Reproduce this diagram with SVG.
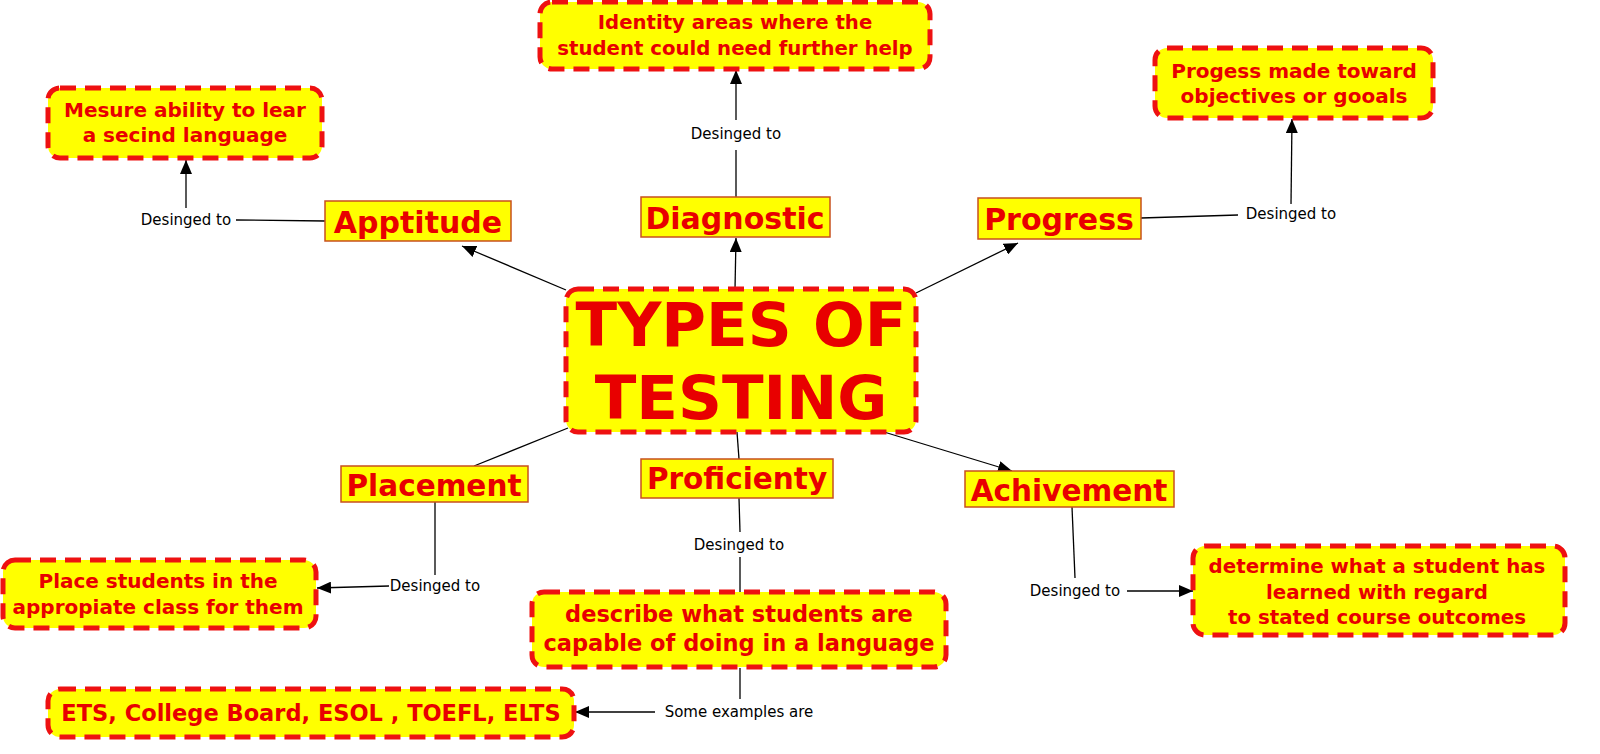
<svg xmlns="http://www.w3.org/2000/svg" width="1600" height="754" viewBox="0 0 1600 754">
<defs>
<marker id="arr" viewBox="0 0 14 12" refX="14" refY="6" markerWidth="14" markerHeight="12" markerUnits="userSpaceOnUse" orient="auto">
<path d="M0,0 L14,6 L0,12 Z" fill="#000"/>
</marker>
</defs>
<style>
.dash{fill:#ffff00;stroke:#ee1111;stroke-width:5;stroke-dasharray:16 9}
.box{fill:#ffff00;stroke:#c8501e;stroke-width:1.5}
.t{font-family:"DejaVu Sans",Verdana,sans-serif;font-weight:bold;fill:#e80000;text-anchor:middle}
.lbl{font-family:"DejaVu Sans",Verdana,sans-serif;font-size:15px;fill:#000;text-anchor:middle}
.ln{stroke:#000;stroke-width:1.3;fill:none}
.ar{stroke:#000;stroke-width:1.3;fill:none;marker-end:url(#arr)}
</style>
<rect width="1600" height="754" fill="#fff"/>
<g id="connectors">
<line class="ar" x1="566" y1="290" x2="462" y2="246"/>
<line class="ar" x1="735" y1="289" x2="736" y2="238"/>
<line class="ar" x1="916" y1="293" x2="1018" y2="243"/>
<line class="ar" x1="884" y1="432" x2="1012" y2="471"/>
<line class="ln" x1="568" y1="428" x2="474" y2="466"/>
<line class="ln" x1="737" y1="432" x2="739" y2="459"/>
<line class="ln" x1="325" y1="221" x2="236" y2="220"/>
<line class="ar" x1="186" y1="208" x2="186" y2="160"/>
<line class="ln" x1="736" y1="197" x2="736" y2="150"/>
<line class="ar" x1="736" y1="120" x2="736" y2="70"/>
<line class="ln" x1="1141" y1="218" x2="1238" y2="215"/>
<line class="ar" x1="1291" y1="204" x2="1292" y2="119"/>
<line class="ln" x1="435" y1="502" x2="435" y2="575"/>
<line class="ar" x1="389" y1="586" x2="317" y2="588"/>
<line class="ln" x1="739" y1="498" x2="740" y2="532"/>
<line class="ln" x1="740" y1="557" x2="740" y2="592"/>
<line class="ln" x1="740" y1="668" x2="740" y2="699"/>
<line class="ar" x1="655" y1="712" x2="575" y2="712"/>
<line class="ln" x1="1072" y1="507" x2="1075" y2="578"/>
<line class="ar" x1="1127" y1="591" x2="1193" y2="591"/>
</g>
<g id="labels">
<text class="lbl" x="186" y="225">Desinged to</text>
<text class="lbl" x="736" y="139">Desinged to</text>
<text class="lbl" x="1291" y="219">Desinged to</text>
<text class="lbl" x="435" y="591">Desinged to</text>
<text class="lbl" x="739" y="550">Desinged to</text>
<text class="lbl" x="739" y="717">Some examples are</text>
<text class="lbl" x="1075" y="596">Desinged to</text>
</g>
<g id="center">
<rect class="dash" x="566" y="289" width="350" height="143" rx="12"/>
<text class="t" x="741" y="346" font-size="61">TYPES OF</text>
<text class="t" x="741" y="419" font-size="61">TESTING</text>
</g>
<g id="apptitude">
<rect class="box" x="325" y="201" width="186" height="40"/>
<text class="t" x="418" y="233" font-size="30">Apptitude</text>
</g>
<g id="diagnostic">
<rect class="box" x="641" y="197" width="189" height="40"/>
<text class="t" x="735" y="229" font-size="30">Diagnostic</text>
</g>
<g id="progress">
<rect class="box" x="978" y="198" width="163" height="41"/>
<text class="t" x="1059" y="230" font-size="30">Progress</text>
</g>
<g id="placement">
<rect class="box" x="341" y="466" width="187" height="36"/>
<text class="t" x="434" y="496" font-size="29.5">Placement</text>
</g>
<g id="proficienty">
<rect class="box" x="641" y="459" width="192" height="39"/>
<text class="t" x="737" y="489" font-size="29.5">Proficienty</text>
</g>
<g id="achivement">
<rect class="box" x="965" y="471" width="209" height="36"/>
<text class="t" x="1069" y="501" font-size="29.5">Achivement</text>
</g>
<g id="mesure">
<rect class="dash" x="48" y="88" width="274" height="70" rx="12"/>
<text class="t" x="185" y="117" font-size="20">Mesure ability to lear</text>
<text class="t" x="185" y="142" font-size="20">a secind language</text>
</g>
<g id="identity">
<rect class="dash" x="540" y="2" width="390" height="67" rx="12"/>
<text class="t" x="735" y="29" font-size="19.7">Identity areas where the</text>
<text class="t" x="735" y="55" font-size="19.7">student could need further help</text>
</g>
<g id="progess">
<rect class="dash" x="1155" y="48" width="278" height="70" rx="12"/>
<text class="t" x="1294" y="78" font-size="20">Progess made toward</text>
<text class="t" x="1294" y="103" font-size="20">objectives or gooals</text>
</g>
<g id="place">
<rect class="dash" x="3" y="560" width="313" height="68" rx="12"/>
<text class="t" x="158" y="588" font-size="20">Place students in the</text>
<text class="t" x="158" y="614" font-size="20">appropiate class for them</text>
</g>
<g id="describe">
<rect class="dash" x="532" y="592" width="414" height="75" rx="12"/>
<text class="t" x="739" y="622" font-size="22.5">describe what students are</text>
<text class="t" x="739" y="651" font-size="22.5">capable of doing in a language</text>
</g>
<g id="determine">
<rect class="dash" x="1193" y="546" width="372" height="89" rx="12"/>
<text class="t" x="1377" y="573" font-size="19.8">determine what a student has</text>
<text class="t" x="1377" y="599" font-size="19.8">learned with regard</text>
<text class="t" x="1377" y="624" font-size="19.8">to stated course outcomes</text>
</g>
<g id="examples">
<rect class="dash" x="48" y="689" width="526" height="48" rx="12"/>
<text class="t" x="311" y="721" font-size="22.5">ETS, College Board, ESOL , TOEFL, ELTS</text>
</g>
</svg>
